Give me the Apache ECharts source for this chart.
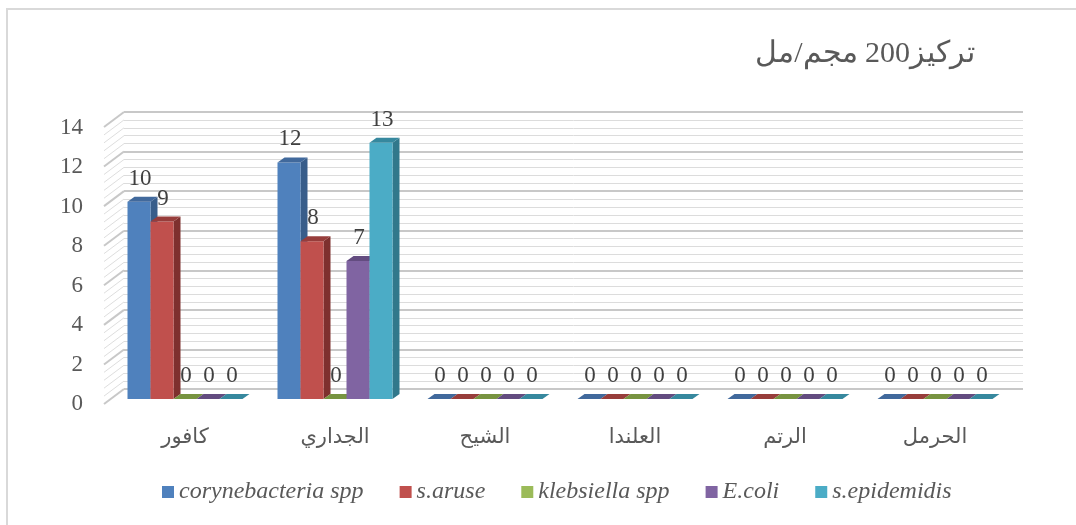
<!DOCTYPE html>
<html>
<head>
<meta charset="utf-8">
<script src="https://cdn.jsdelivr.net/npm/echarts@6/dist/echarts.min.js"></script>
<style>
  html, body { margin: 0; padding: 0; background: #fff; }
  #container { width: 1076px; height: 525px; }
</style>
</head>
<body>
<div id="container"></div>
<script>
// data
var categories = ["كافور", "الجداري", "الشيح", "العلندا", "الرتم", "الحرمل"];
var coryne = [10, 12, 0, 0, 0, 0];
var saruse = [9, 8, 0, 0, 0, 0];
var kleb = [0, 0, 0, 0, 0, 0];
var ecoli = [0, 7, 0, 0, 0, 0];
var sepi = [0, 13, 0, 0, 0, 0];
var yTicks = [0, 2, 4, 6, 8, 10, 12, 14];

var seriesDefs = [
  { name: "corynebacteria spp", values: coryne, front: "#4F81BD", side: "#385D8A", top: "#41699C" },
  { name: "s.aruse", values: saruse, front: "#C0504D", side: "#7E302E", top: "#973D3B" },
  { name: "klebsiella spp", values: kleb, front: "#9BBB59", side: "#6A8239", top: "#779340" },
  { name: "E.coli", values: ecoli, front: "#8064A2", side: "#5A4574", top: "#634C80" },
  { name: "s.epidemidis", values: sepi, front: "#4BACC6", side: "#31788B", top: "#36889E" }
];

var DX = 7, DY = 5;
var labelFont = "Liberation Serif";

function barRenderer(s, def) {
  return function (params, api) {
    var i = api.value(0), v = api.value(1);
    var c = api.coord([i, v]);
    var base = api.coord([i, 0]);
    var band = api.size([1, 0])[0];
    var w = band * 23 / 150;
    var x0 = c[0] - 2.5 * w + s * w;
    var x1 = x0 + w;
    var yt = c[1], yb = base[1];
    var children = [];
    if (v > 0) {
      children.push({
        type: "polygon",
        shape: { points: [[x1, yt], [x1 + DX, yt - DY], [x1 + DX, yb - DY], [x1, yb]] },
        style: { fill: def.side }
      });
      children.push({
        type: "rect",
        shape: { x: x0, y: yt, width: w, height: yb - yt },
        style: { fill: def.front }
      });
    }
    children.push({
      type: "polygon",
      shape: { points: [[x0, yt], [x0 + DX, yt - DY], [x1 + DX, yt - DY], [x1, yt]] },
      style: { fill: def.top }
    });
    children.push({
      type: "text",
      z2: 100,
      style: {
        text: String(v),
        x: x0 + w / 2 + 1,
        y: yt - 23,
        align: "center",
        verticalAlign: "middle",
        fontSize: 23,
        fontFamily: labelFont,
        fill: "#404040"
      }
    });
    return { type: "group", children: children };
  };
}

var series = seriesDefs.map(function (def, s) {
  return {
    name: def.name,
    type: "custom",
    xAxisIndex: 0,
    yAxisIndex: 0,
    itemStyle: { color: def.front },
    renderItem: barRenderer(s, def),
    encode: { x: 0, y: 1 },
    data: def.values.map(function (v, i) { return [i, v]; }),
    z: 5
  };
});

// left side wall diagonals, on the back-wall grid
series.push({
  type: "custom",
  xAxisIndex: 1,
  yAxisIndex: 1,
  silent: true,
  renderItem: function (params, api) {
    var v = api.value(1);
    var cs = params.coordSys;
    var children = [];
    var steps = v < 14 ? 5 : 1;
    for (var k = 0; k < steps; k++) {
      var p = api.coord([0, v + k * 0.4]);
      children.push({
        type: "line",
        shape: { x1: cs.x, y1: p[1], x2: cs.x - 20, y2: p[1] + 15 },
        style: { stroke: k === 0 ? "#c8c8c8" : "#dedede", lineWidth: k === 0 ? 2 : 1 }
      });
    }
    return { type: "group", children: children };
  },
  data: yTicks.map(function (t) { return [0, t]; }),
  z: 1
});

var chart = echarts.init(document.getElementById("container"));
var option = {
  animation: false,
  backgroundColor: "#fff",
  title: {
    text: "تركيز200 مجم/مل",
    right: 96,
    top: 34,
    textStyle: { fontSize: 30, fontWeight: "normal", color: "#595959", fontFamily: "Liberation Serif" }
  },
  legend: {
    data: seriesDefs.map(function (d) { return d.name; }),
    left: 157,
    top: 475,
    icon: "rect",
    itemWidth: 12,
    itemHeight: 12,
    itemGap: 36,
    textStyle: { fontSize: 24, fontStyle: "italic", fontFamily: labelFont, color: "#595959" }
  },
  graphic: [{
    type: "rect",
    shape: { x: 7, y: 9, width: 1200, height: 700 },
    style: { fill: "none", stroke: "#d9d9d9", lineWidth: 2 },
    silent: true
  }],
  grid: [
    { left: 110, right: 66, top: 123, bottom: 126 },
    { left: 124, right: 53, top: 112, bottom: 136 }
  ],
  xAxis: [
    {
      type: "category", gridIndex: 0, data: categories,
      axisLine: { show: false }, axisTick: { show: false },
      axisLabel: { margin: 28, fontSize: 21, color: "#595959", fontFamily: "DejaVu Sans" }
    },
    { type: "category", gridIndex: 1, data: categories, show: false }
  ],
  yAxis: [
    {
      type: "value", gridIndex: 0, min: 0, max: 14, interval: 2,
      axisLine: { show: false }, axisTick: { show: false }, splitLine: { show: false },
      axisLabel: {
        margin: 27, color: "#595959",
        formatter: "{a|{value}}",
        rich: { a: { fontSize: 23, fontFamily: labelFont, color: "#595959", padding: [10, 0, 0, 0] } }
      }
    },
    {
      type: "value", gridIndex: 1, min: 0, max: 14, interval: 2,
      axisLine: { show: false }, axisTick: { show: false }, axisLabel: { show: false },
      splitLine: { show: true, lineStyle: { color: "#c8c8c8", width: 2 } },
      minorTick: { show: false, splitNumber: 5 },
      minorSplitLine: { show: true, lineStyle: { color: "#dcdcdc", width: 1 } }
    }
  ],
  series: series
};
chart.setOption(option);
</script>
</body>
</html>
